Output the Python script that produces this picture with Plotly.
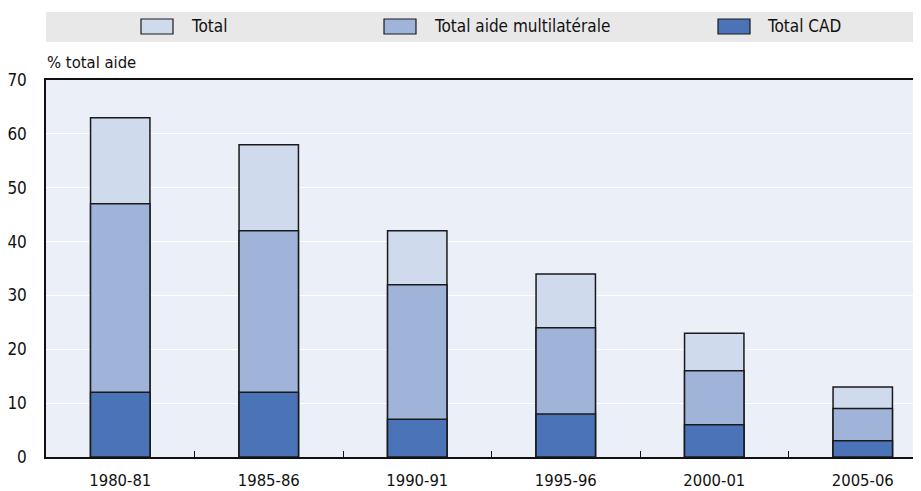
import plotly.graph_objects as go

periods = ["1980-81", "1985-86", "1990-91", "1995-96", "2000-01", "2005-06"]
total = [63, 58, 42, 34, 23, 13]
total_multi = [47, 42, 32, 24, 16, 9]
total_cad = [12, 12, 7, 8, 6, 3]

series_names = ["Total", "Total aide multilatérale", "Total CAD"]
series_colors = ["#CFDBEC", "#A0B4DA", "#4B74B8"]
series_values = [total, total_multi, total_cad]

FONT = "DejaVu Sans Condensed, Liberation Sans Narrow, Liberation Sans, sans-serif"
OFF = 8  # page body margin
W, H = 921 - OFF, 491 - OFF
L, R, T, B = 46 - OFF, 0, 80 - OFF, 34
PW, PH = W - L - R, H - T - B


def px2paper_x(px):
    return (px - OFF - L) / PW


def px2paper_y(py):
    return (H - B - (py - OFF)) / PH


fig = go.Figure()
for name, color, vals in zip(series_names, series_colors, series_values):
    fig.add_trace(go.Bar(
        x=periods, y=vals, name=name, width=0.4,
        marker=dict(color=color, line=dict(color="#1a1a1a", width=1.5)),
        showlegend=False,
    ))

shapes = []
annotations = []
# legend band
shapes.append(dict(type="rect", xref="paper", yref="paper",
                   x0=px2paper_x(46), x1=px2paper_x(921),
                   y0=px2paper_y(42), y1=px2paper_y(12),
                   fillcolor="#E8E8E8", line=dict(width=0), layer="below"))
legend_pos = [(141, 189), (384, 432), (718, 765)]
for (sx, tx), name, color in zip(legend_pos, series_names, series_colors):
    shapes.append(dict(type="rect", xref="paper", yref="paper",
                       x0=px2paper_x(sx), x1=px2paper_x(sx + 32),
                       y0=px2paper_y(34), y1=px2paper_y(19),
                       fillcolor=color, line=dict(color="#1a1a1a", width=1.2)))
    annotations.append(dict(text=name, xref="paper", yref="paper",
                            x=px2paper_x(tx), y=px2paper_y(26.5),
                            xanchor="left", yanchor="middle", showarrow=False,
                            font=dict(family=FONT, size=17, color="#111")))

annotations.append(dict(text="% total aide", xref="paper", yref="paper",
                        x=px2paper_x(45), y=px2paper_y(62),
                        xanchor="left", yanchor="middle", showarrow=False,
                        font=dict(family=FONT, size=16.5, color="#111")))

fig.update_layout(
    width=W, height=H,
    margin=dict(l=L, r=R, t=T, b=B, pad=0),
    barmode="overlay",
    plot_bgcolor="#EBF0F8",
    paper_bgcolor="white",
    font=dict(family=FONT, size=16, color="#111"),
    shapes=shapes,
    annotations=annotations,
    xaxis=dict(
        type="category",
        range=[-0.5, -0.5 + PW / 148.5],
        tickson="boundaries",
        ticks="inside", ticklen=6, tickwidth=1.2, tickcolor="#111",
        showline=True, linecolor="#111", linewidth=1.5, mirror=True,
        showgrid=False,
        ticklabelstandoff=7,
        tickfont=dict(family=FONT, size=16.5, color="#111"),
    ),
    yaxis=dict(
        range=[0, 70], dtick=10,
        showgrid=True, gridcolor="white", gridwidth=1.2,
        showline=True, linecolor="#111", linewidth=1.5,
        zeroline=False,
        ticks="", ticklabelstandoff=14,
        tickfont=dict(family=FONT, size=17, color="#111"),
    ),
)

fig.write_html("out.html")
